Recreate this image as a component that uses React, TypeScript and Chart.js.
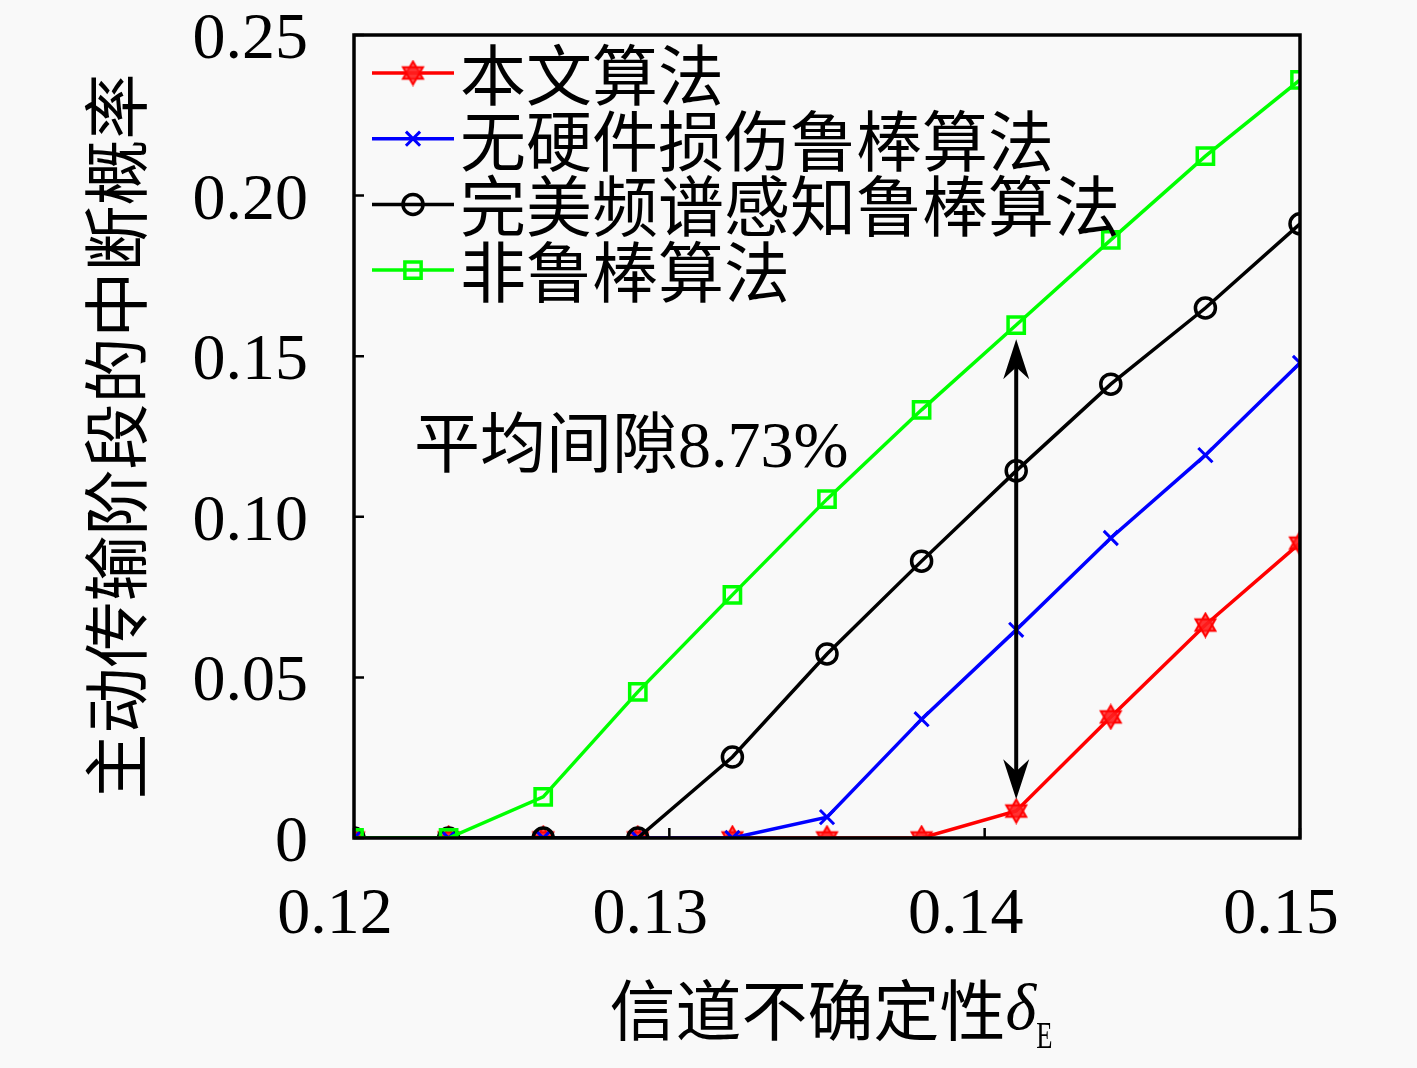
import { useEffect, useRef } from 'react'
import { Chart, registerables } from 'chart.js'
import { drawPoint } from 'chart.js/helpers'

Chart.register(...registerables)

// 信道不确定性 δE
const X_VALUES = [0.12, 0.123, 0.126, 0.129, 0.132, 0.135, 0.138, 0.141, 0.144, 0.147, 0.15]
// 中断概率
const OURS = [0, 0, 0, 0, 0, 0, 0, 0.0084, 0.0377, 0.0663, 0.0918]
const NO_HWI = [0, 0, 0, 0, 0, 0.0065, 0.037, 0.0648, 0.0934, 0.1192, 0.1479]
const PERFECT_SENSING = [0, 0, 0, 0, 0.0252, 0.0573, 0.0862, 0.1143, 0.1413, 0.165, 0.1912]
const NON_ROBUST = [0, 0, 0.0128, 0.0455, 0.0757, 0.1055, 0.1333, 0.1597, 0.1862, 0.2123, 0.236]

const SERIES_NAMES = ['本文算法', '无硬件损伤鲁棒算法', '完美频谱感知鲁棒算法', '非鲁棒算法']

const X_TICKS = [0.12, 0.13, 0.14, 0.15]
const X_TICK_LABELS = ['0.12', '0.13', '0.14', '0.15']
const Y_TICKS = [0, 0.05, 0.1, 0.15, 0.2, 0.25]
const Y_TICK_LABELS = ['0', '0.05', '0.10', '0.15', '0.20', '0.25']

const Y_TITLE = '主动传输阶段的中断概率'
const X_TITLE = '信道不确定性'

// gap annotation
const GAP_X = 0.141
const GAP_TOP = 0.1553
const GAP_BOTTOM = 0.0121
const GAP_LABEL = '平均间隙8.73%'
const GAP_LABEL_X = 0.1219
const GAP_LABEL_Y = 0.1208

const SERIF = "'Liberation Serif', 'Noto Sans CJK SC'"
const CJK = "'Noto Sans CJK SC'"

function makeHexagram(size: number, color: string) {
  const c = document.createElement('canvas')
  c.width = size
  c.height = size
  const ctx = c.getContext('2d')!
  const cx = size / 2
  const cy = size / 2
  const r = size / 2 - 2
  ctx.strokeStyle = color
  ctx.fillStyle = 'rgba(255,30,30,0.7)'
  ctx.lineWidth = 2
  for (const off of [-Math.PI / 2, Math.PI / 2]) {
    ctx.beginPath()
    for (let k = 0; k < 3; k++) {
      const a = off + (k * 2 * Math.PI) / 3
      const px = cx + r * Math.cos(a)
      const py = cy + r * Math.sin(a)
      if (k === 0) ctx.moveTo(px, py)
      else ctx.lineTo(px, py)
    }
    ctx.closePath()
    ctx.fill()
    ctx.stroke()
  }
  return c
}

function arrowHead(ctx: CanvasRenderingContext2D, x: number, tipY: number, dir: number) {
  ctx.beginPath()
  ctx.moveTo(x, tipY)
  ctx.lineTo(x - 13, tipY + dir * 40)
  ctx.lineTo(x, tipY + dir * 28)
  ctx.lineTo(x + 13, tipY + dir * 40)
  ctx.closePath()
  ctx.fill()
}

const decorPlugin = {
  id: 'decor',
  afterDraw(chart: any) {
    const { ctx, chartArea } = chart
    const xs = chart.scales.x
    const ys = chart.scales.y
    const { left, right, top, bottom } = chartArea
    ctx.save()

    // box
    ctx.strokeStyle = '#000'
    ctx.lineWidth = 3.5
    ctx.strokeRect(left, top, right - left, bottom - top)

    // inward ticks
    ctx.lineWidth = 2.5
    ctx.beginPath()
    X_TICKS.forEach(v => {
      const px = xs.getPixelForValue(v)
      ctx.moveTo(px, bottom)
      ctx.lineTo(px, bottom - 10)
    })
    Y_TICKS.forEach(v => {
      const py = ys.getPixelForValue(v)
      ctx.moveTo(left, py)
      ctx.lineTo(left + 10, py)
    })
    ctx.stroke()

    ctx.fillStyle = '#000'

    // y tick labels
    ctx.font = `66px ${SERIF}`
    ctx.textAlign = 'right'
    ctx.textBaseline = 'alphabetic'
    Y_TICKS.forEach((v, i) => {
      const py = ys.getPixelForValue(v)
      ctx.fillText(Y_TICK_LABELS[i], left - 46, py + 23)
    })

    // x tick labels
    ctx.textAlign = 'center'
    X_TICKS.forEach((v, i) => {
      const px = xs.getPixelForValue(v)
      ctx.fillText(X_TICK_LABELS[i], px - 19, bottom + 95)
    })

    // x title with δ_E
    const cx = (left + right) / 2 + 4
    const ty = bottom + 172
    ctx.font = `66px ${CJK}`
    const w1 = ctx.measureText(X_TITLE).width
    ctx.font = `italic 66px ${SERIF}`
    const w2 = ctx.measureText('δ').width
    ctx.font = `38px ${SERIF}`
    const w3 = ctx.measureText('E').width * 0.7
    let sx = cx - (w1 + w2 + w3) / 2
    ctx.textAlign = 'left'
    ctx.textBaseline = 'middle'
    ctx.font = `66px ${CJK}`
    ctx.fillText(X_TITLE, sx, ty)
    sx += w1
    ctx.font = `italic 66px ${SERIF}`
    ctx.fillText('δ', sx, ty + 2)
    sx += w2
    ctx.font = `38px ${SERIF}`
    ctx.save()
    ctx.translate(sx, ty + 28)
    ctx.scale(0.7, 1)
    ctx.fillText('E', 0, 0)
    ctx.restore()

    // gap arrow
    const ax = xs.getPixelForValue(GAP_X)
    const aTop = ys.getPixelForValue(GAP_TOP)
    const aBot = ys.getPixelForValue(GAP_BOTTOM)
    ctx.lineWidth = 4
    ctx.beginPath()
    ctx.moveTo(ax, aTop + 20)
    ctx.lineTo(ax, aBot - 20)
    ctx.stroke()
    arrowHead(ctx, ax, aTop, 1)
    arrowHead(ctx, ax, aBot, -1)

    ctx.font = `66px ${SERIF}`
    ctx.textAlign = 'left'
    ctx.textBaseline = 'middle'
    ctx.fillText(GAP_LABEL, xs.getPixelForValue(GAP_LABEL_X), ys.getPixelForValue(GAP_LABEL_Y))

    // legend
    chart.data.datasets.forEach((ds: any, i: number) => {
      const ly = top + 38 + i * 65.7
      const lx = left + 18
      ctx.strokeStyle = ds.borderColor
      ctx.lineWidth = ds.borderWidth
      ctx.beginPath()
      ctx.moveTo(lx, ly)
      ctx.lineTo(lx + 82, ly)
      ctx.stroke()
      ctx.fillStyle = ds.pointBackgroundColor
      ctx.strokeStyle = ds.pointBorderColor
      ctx.lineWidth = ds.pointBorderWidth
      drawPoint(ctx, { pointStyle: ds.pointStyle, radius: ds.pointRadius, rotation: 0, borderWidth: ds.pointBorderWidth }, lx + 41, ly)
      ctx.fillStyle = '#000'
      ctx.font = `66px ${CJK}`
      ctx.fillText(ds.label, left + 106, ly + 2)
    })

    ctx.restore()
  },
}

export default function App() {
  const canvasRef = useRef<HTMLCanvasElement>(null)
  const chartRef = useRef<Chart | null>(null)

  useEffect(() => {
    if (!canvasRef.current) return
    if (chartRef.current) chartRef.current.destroy()

    const toXY = (ys: number[]) => ys.map((y, i) => ({ x: X_VALUES[i], y }))
    const hexagram = makeHexagram(27, '#ff0000')

    chartRef.current = new Chart(canvasRef.current, {
      type: 'line',
      data: {
        datasets: [
          {
            label: SERIES_NAMES[0],
            data: toXY(OURS),
            borderColor: '#ff0000',
            borderWidth: 3.5,
            pointStyle: hexagram as any,
            pointRadius: 13,
            pointBackgroundColor: '#ff0000',
            pointBorderColor: '#ff0000',
            pointBorderWidth: 2,
            order: 4,
          },
          {
            label: SERIES_NAMES[1],
            data: toXY(NO_HWI),
            borderColor: '#0000ff',
            borderWidth: 3.5,
            pointStyle: 'crossRot',
            pointRadius: 10,
            pointBackgroundColor: '#0000ff',
            pointBorderColor: '#0000ff',
            pointBorderWidth: 3,
            order: 3,
          },
          {
            label: SERIES_NAMES[2],
            data: toXY(PERFECT_SENSING),
            borderColor: '#000000',
            borderWidth: 3.5,
            pointStyle: 'circle',
            pointRadius: 10,
            pointBackgroundColor: 'rgba(0,0,0,0)',
            pointBorderColor: '#000000',
            pointBorderWidth: 3.5,
            order: 2,
          },
          {
            label: SERIES_NAMES[3],
            data: toXY(NON_ROBUST),
            borderColor: '#00ff00',
            borderWidth: 3.5,
            pointStyle: 'rect',
            pointRadius: 11.5,
            pointBackgroundColor: 'rgba(0,0,0,0)',
            pointBorderColor: '#00ff00',
            pointBorderWidth: 3.5,
            order: 1,
          },
        ],
      },
      options: {
        responsive: false,
        animation: false,
        devicePixelRatio: 1,
        layout: { padding: { left: 76, top: 35, right: 117, bottom: 0 } },
        elements: { line: { tension: 0 } },
        plugins: {
          legend: { display: false },
          tooltip: { enabled: false },
        },
        scales: {
          x: {
            type: 'linear',
            min: 0.12,
            max: 0.15,
            grid: { display: false },
            border: { display: false },
            ticks: { display: false },
            afterFit: (scale: any) => { scale.height = 230 },
          },
          y: {
            type: 'linear',
            min: 0,
            max: 0.25,
            grid: { display: false, drawTicks: false },
            border: { display: false },
            ticks: { display: false },
            title: {
              display: true,
              text: Y_TITLE,
              color: '#000',
              padding: 0,
              font: { family: CJK, size: 66 },
            },
            afterFit: (scale: any) => { scale.width = 278 },
          },
        },
      },
      plugins: [decorPlugin],
    })
    return () => { if (chartRef.current) chartRef.current.destroy() }
  }, [])

  return (
    <div style={{ position: 'absolute', left: 0, top: 0, width: 1417, height: 1068, background: '#f9f9f9' }}>
      <canvas ref={canvasRef} width={1417} height={1068} />
    </div>
  )
}
